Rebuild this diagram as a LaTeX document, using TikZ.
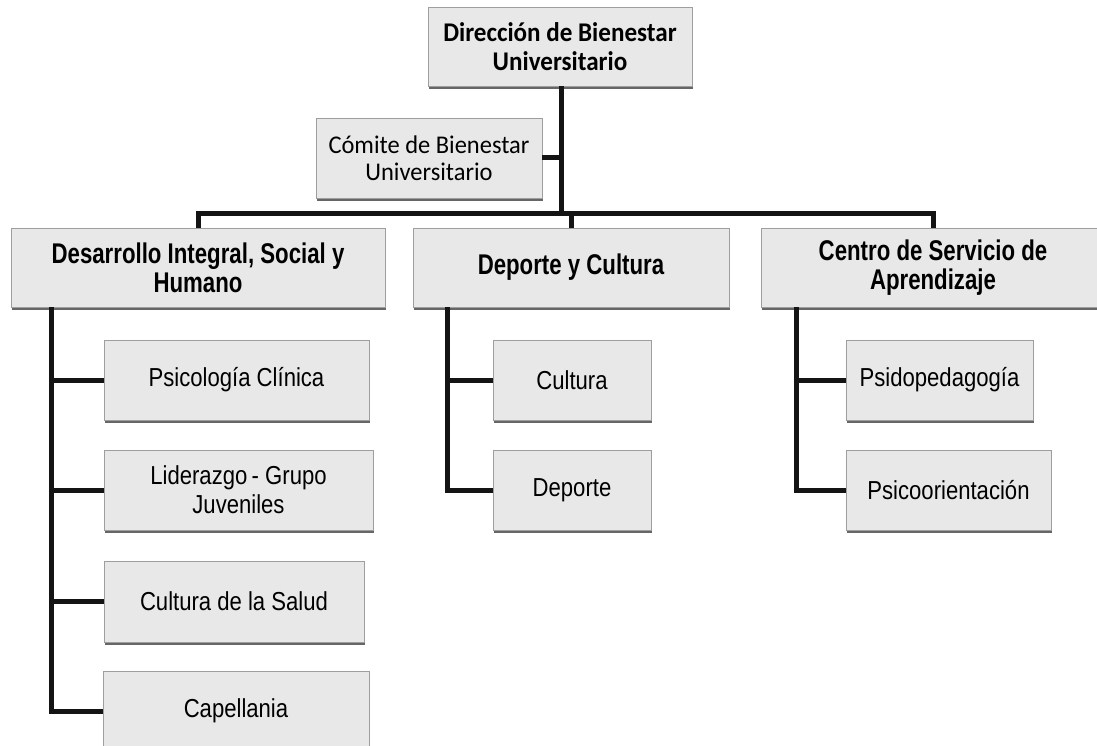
\documentclass[tikz,border=0pt]{standalone}
\usepackage{fontspec}
\usetikzlibrary{shadows}
\newfontfamily\topfont{Carlito}[FakeStretch=0.93]
\newfontfamily\comfont{Carlito}[FakeStretch=0.96]
\newfontfamily\narrowfont{Liberation Sans}[FakeStretch=0.85]
\newfontfamily\narrowbfont{Liberation Sans}[FakeStretch=0.78]
\begin{document}
\begin{tikzpicture}[x=1pt,y=1pt,
  box/.style={draw=black!38, line width=0.8pt, fill=black!9, inner sep=0pt, align=center,
    minimum height=80pt,
    drop shadow={shadow xshift=1.2pt, shadow yshift=-2.8pt, fill=black!60, opacity=1}},
  topbox/.style={box, font=\topfont\bfseries\fontsize{27}{29}\selectfont},
  combox/.style={box, font=\comfont\fontsize{25.5}{27}\selectfont},
  midbox/.style={box, minimum height=79pt, font=\narrowbfont\bfseries\fontsize{28.5}{29}\selectfont},
  subbox/.style={box, font=\narrowfont\fontsize{26}{29}\selectfont},
  link/.style={draw=black!92, line width=5pt}
]
\useasboundingbox (0,0) rectangle (1097,-746);
\fill[white] (0,0) rectangle (1097,-746);

% nodes
\node[topbox, minimum width=264pt, minimum height=79pt] (top) at (560,-46.5) {Dirección de Bienestar\\Universitario};
\node[combox, minimum width=226pt] (com) at (429,-158) {Cómite de Bienestar\\Universitario};

\node[midbox, minimum width=374pt] (d1) at (198,-267.5) {Desarrollo Integral, Social y\\Humano};
\node[midbox, minimum width=316pt] (d2) at (571,-267.5) {Deporte y Cultura};
\node[midbox, minimum width=344pt] (d3) at (933,-267.5) {Centro de Servicio de\\Aprendizaje};

\node[subbox, minimum width=265pt] (s11) at (236.5,-380) {Psicología Clínica};
\node[subbox, minimum width=269pt] (s12) at (238.5,-490) {Liderazgo\,- Grupo\\Juveniles};
\node[subbox, minimum width=260pt, minimum height=81pt] (s13) at (234,-601.5) {Cultura de la Salud};
\node[subbox, minimum width=266pt] (s14) at (236,-711) {Capellania};

\node[subbox, minimum width=158pt] (s21) at (572,-380) {Cultura};
\node[subbox, minimum width=158pt] (s22) at (572,-490) {Deporte};

\node[subbox, minimum width=187pt] (s31) at (939.5,-380) {Psidopedagogía};
\node[subbox, minimum width=205pt] (s32) at (948.5,-490) {Psicoorientación};

% connectors
\coordinate (hub) at (561,-213);
\coordinate (v1) at (51,-307);
\coordinate (v2) at (447,-307);
\coordinate (v3) at (796,-307);

\draw[link] (top.south -| hub) -- (hub);
\draw[link] (com.east) -- (com.east -| hub);
\draw[link] (d1.north) |- (hub) -| (d3.north);
\draw[link] (hub) -| (d2.north);

\draw[link] (v1) |- (s11.west);
\draw[link] (v1) |- (s12.west);
\draw[link] (v1) |- (s13.west);
\draw[link] (v1) |- (s14.west);

\draw[link] (v2) |- (s21.west);
\draw[link] (v2) |- (s22.west);

\draw[link] (v3) |- (s31.west);
\draw[link] (v3) |- (s32.west);
\end{tikzpicture}
\end{document}
